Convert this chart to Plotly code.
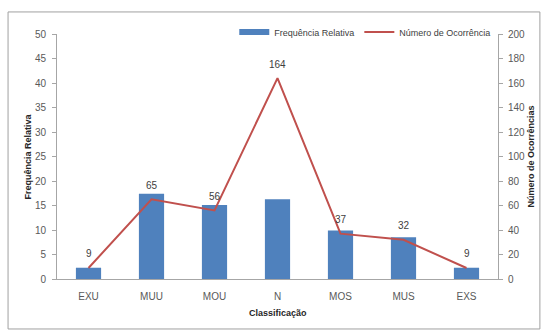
import plotly.graph_objects as go

categorias = ["EXU", "MUU", "MOU", "N", "MOS", "MUS", "EXS"]
freq_relativa = [2.3, 17.4, 15.1, 16.3, 9.9, 8.5, 2.3]
ocorrencias = [9, 65, 56, 164, 37, 32, 9]

axis_gray = "#a6a6a6"
tick_col = "#595959"
font_fam = "Liberation Sans, Arial, sans-serif"

fig = go.Figure()
fig.add_trace(go.Bar(
    x=categorias, y=freq_relativa, name="Frequência Relativa",
    marker=dict(color="#4F81BD", line=dict(width=0)), width=0.4,
    yaxis="y", showlegend=False,
))
# legend entry mimicking the wide bar swatch
fig.add_trace(go.Scatter(
    x=[None], y=[None], name="Frequência Relativa", mode="lines",
    line=dict(color="#4F81BD", width=6), yaxis="y",
))
fig.add_trace(go.Scatter(
    x=categorias, y=ocorrencias, name="Número de Ocorrência",
    mode="lines", line=dict(color="#C0504D", width=2),
    yaxis="y2",
))

annotations = [
    dict(text=str(v), x=c, y=v, xref="x", yref="y2", yshift=14, showarrow=False,
         font=dict(size=10, color="#404040"))
    for c, v in zip(categorias, ocorrencias)
]
annotations += [
    dict(text="<b>Frequência Relativa</b>", xref="paper", yref="paper",
         x=-0.068, y=0.5, textangle=-90, showarrow=False,
         xanchor="center", yanchor="middle",
         font=dict(size=9, color="#262626")),
    dict(text="<b>Número de Ocorrências</b>", xref="paper", yref="paper",
         x=1.0726, y=0.5, textangle=-90, showarrow=False,
         xanchor="center", yanchor="middle",
         font=dict(size=9, color="#262626")),
    dict(text="<b>Classificação</b>", xref="paper", yref="paper",
         x=0.5, y=-0.139, showarrow=False,
         xanchor="center", yanchor="middle",
         font=dict(size=9, color="#262626")),
]

fig.update_layout(
    width=543, height=331,
    margin=dict(l=57, r=45, t=34, b=52),
    paper_bgcolor="white", plot_bgcolor="white",
    font=dict(family=font_fam, size=10, color=tick_col),
    showlegend=True,
    legend=dict(orientation="h", x=0.402, xanchor="left", y=1.008, yanchor="middle",
                font=dict(size=9, color="#404040"), bgcolor="rgba(0,0,0,0)",
                itemwidth=30, tracegroupgap=0),
    xaxis=dict(showline=True, linecolor=axis_gray, linewidth=1, ticks="",
               ticklabelstandoff=8,
               tickfont=dict(size=10, color=tick_col), showgrid=False, zeroline=False),
    yaxis=dict(range=[0, 50], dtick=5, showline=True, linecolor=axis_gray, linewidth=1,
               ticks="outside", ticklen=4, tickcolor=axis_gray, showgrid=False,
               ticklabelstandoff=4,
               zeroline=False, tickfont=dict(size=10, color=tick_col)),
    yaxis2=dict(range=[0, 200], dtick=20, overlaying="y", side="right", showline=True,
                linecolor=axis_gray, linewidth=1, ticks="outside", ticklen=4,
                tickcolor=axis_gray, showgrid=False, zeroline=False,
                ticklabelstandoff=3,
                tickfont=dict(size=10, color=tick_col)),
    shapes=[dict(type="rect", xref="paper", yref="paper",
                 x0=-0.111, x1=1.095, y0=-0.204, y1=1.09,
                 line=dict(color="#a0a0a0", width=1), fillcolor="rgba(0,0,0,0)",
                 layer="below")],
    annotations=annotations,
)

fig.write_html("out.html")
